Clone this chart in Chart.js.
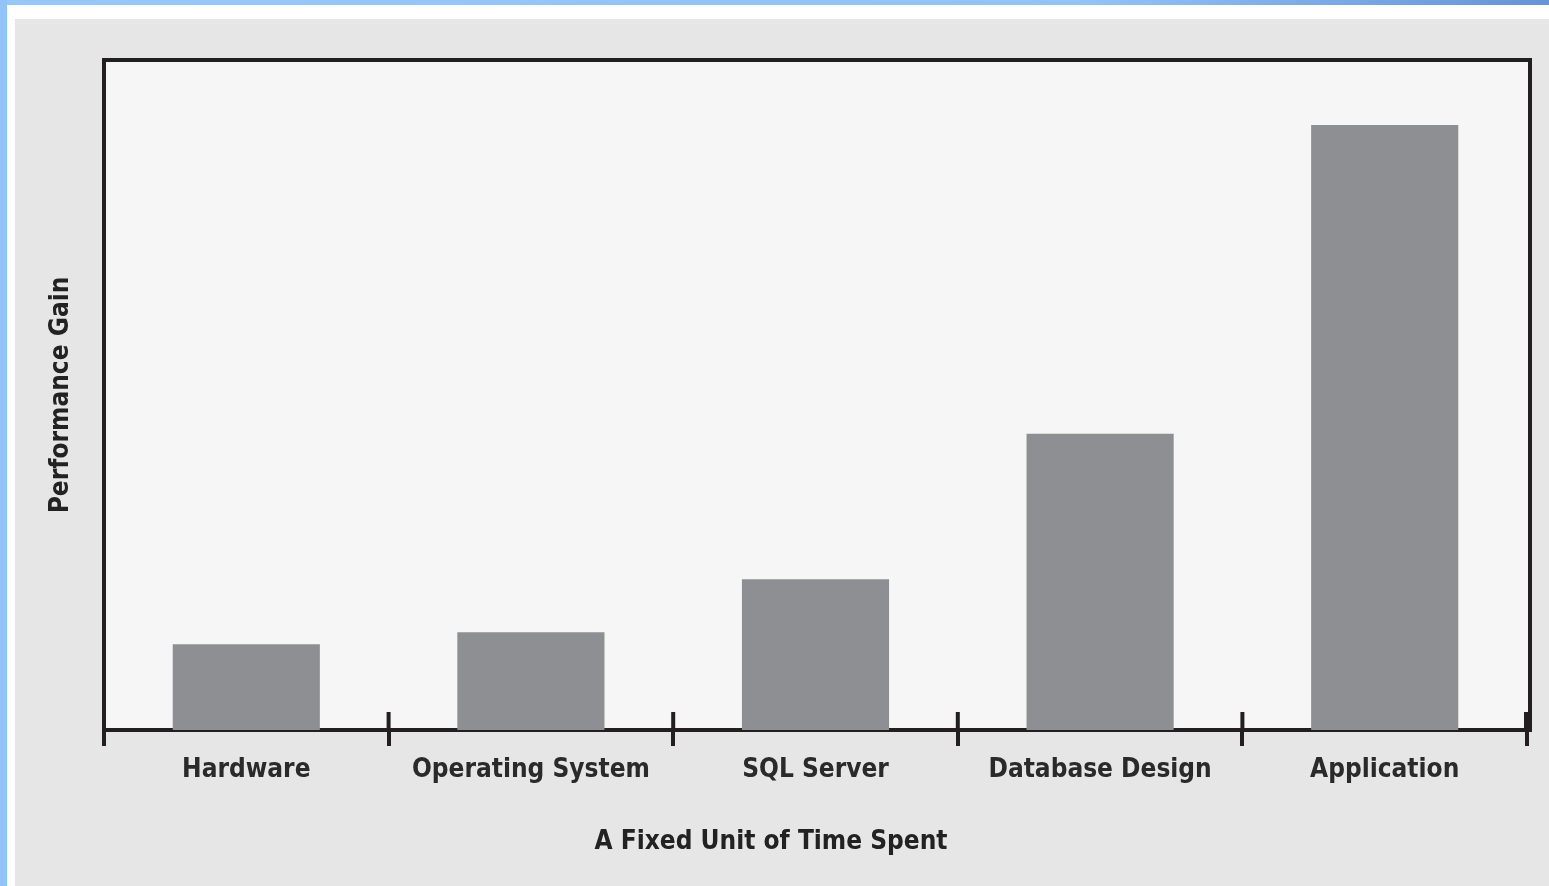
<!DOCTYPE html>
<html>
<head>
<meta charset="utf-8">
<title>Performance Gain</title>
<script src="https://cdn.jsdelivr.net/npm/chart.js@4/dist/chart.umd.min.js"></script>
<style>
  html, body { margin: 0; padding: 0; background: #ffffff; overflow: hidden; }
  #topbar { position: absolute; left: 0; top: 0; width: 1549px; height: 5px;
    background: linear-gradient(to right, #98c8fa, #92c2f6 70%, #6494d6); }
  #leftbar { position: absolute; left: 0; top: 0; width: 7px; height: 886px; background: #92c4f9; }
  #panel { position: absolute; left: 15px; top: 19px; width: 1534px; height: 867px; background: #e6e6e6; }
</style>
</head>
<body>
<div id="topbar"></div>
<div id="leftbar"></div>
<div id="panel"><canvas id="chartGain" width="1534" height="867"></canvas></div>

<script>
const categories = ["Hardware", "Operating System", "SQL Server", "Database Design", "Application"];
const gains = [12.8, 14.6, 22.5, 44.2, 90.3];
const yTitle = "Performance Gain";
const xTitle = "A Fixed Unit of Time Spent";

const ink = "#231f20";
const fontFamily = "'Liberation Sans Narrow', 'DejaVu Sans Condensed', 'Liberation Sans', sans-serif";

// plot background, frame and the upper half of the category separators
const framePlugin = {
  id: "frame",
  beforeDraw(chart) {
    const a = chart.chartArea;
    const ctx = chart.ctx;
    ctx.save();
    ctx.fillStyle = "#f6f6f6";
    ctx.fillRect(a.left, a.top, a.right - a.left + 3, a.bottom - a.top);
    ctx.restore();
  },
  beforeDatasetsDraw(chart) {
    const a = chart.chartArea;
    const ctx = chart.ctx;
    const x = chart.scales.x;
    const step = (x.right - x.left) / categories.length;
    ctx.save();
    ctx.strokeStyle = ink;
    ctx.lineWidth = 4;
    ctx.strokeRect(a.left, a.top, a.right - a.left + 3, a.bottom - a.top);
    ctx.beginPath();
    for (let i = 1; i <= categories.length; i++) {
      const px = x.left + i * step - (i === categories.length ? 1 : 0);
      ctx.moveTo(px, a.bottom - 18);
      ctx.lineTo(px, a.bottom);
    }
    ctx.stroke();
    ctx.restore();
  }
};

new Chart(document.getElementById("chartGain"), {
  type: "bar",
  data: {
    labels: categories,
    datasets: [{
      data: gains,
      backgroundColor: "#8e8f93",
      categoryPercentage: 1,
      barPercentage: 0.517
    }]
  },
  options: {
    responsive: false,
    animation: false,
    events: [],
    layout: { padding: { top: 41, right: 22, left: 0, bottom: 0 } },
    plugins: {
      legend: { display: false },
      tooltip: { enabled: false },
      // x-axis caption, centred on the whole panel
      title: {
        display: true,
        position: "bottom",
        text: xTitle,
        color: "#222",
        padding: { top: 0, bottom: 28.4 },
        font: { family: fontFamily, size: 26, weight: "bold" }
      }
    },
    scales: {
      x: {
        offset: true,
        border: { display: false },
        grid: {
          offset: true,
          drawOnChartArea: false,
          drawTicks: true,
          tickLength: 16,
          lineWidth: 4,
          color: ink
        },
        ticks: {
          color: "#2a2a2a",
          padding: 9,
          font: { family: fontFamily, size: 26, weight: "bold" }
        },
        afterFit(scale) { scale.height = 96.4; }
      },
      y: {
        min: 0,
        max: 100,
        border: { display: false },
        grid: { display: false },
        ticks: { display: false },
        title: {
          display: true,
          text: yTitle,
          color: "#222",
          padding: { top: 31 },
          font: { family: fontFamily, size: 26, weight: "bold" }
        },
        afterFit(scale) { scale.width = 89; }
      }
    }
  },
  plugins: [framePlugin]
});
</script>
</body>
</html>
